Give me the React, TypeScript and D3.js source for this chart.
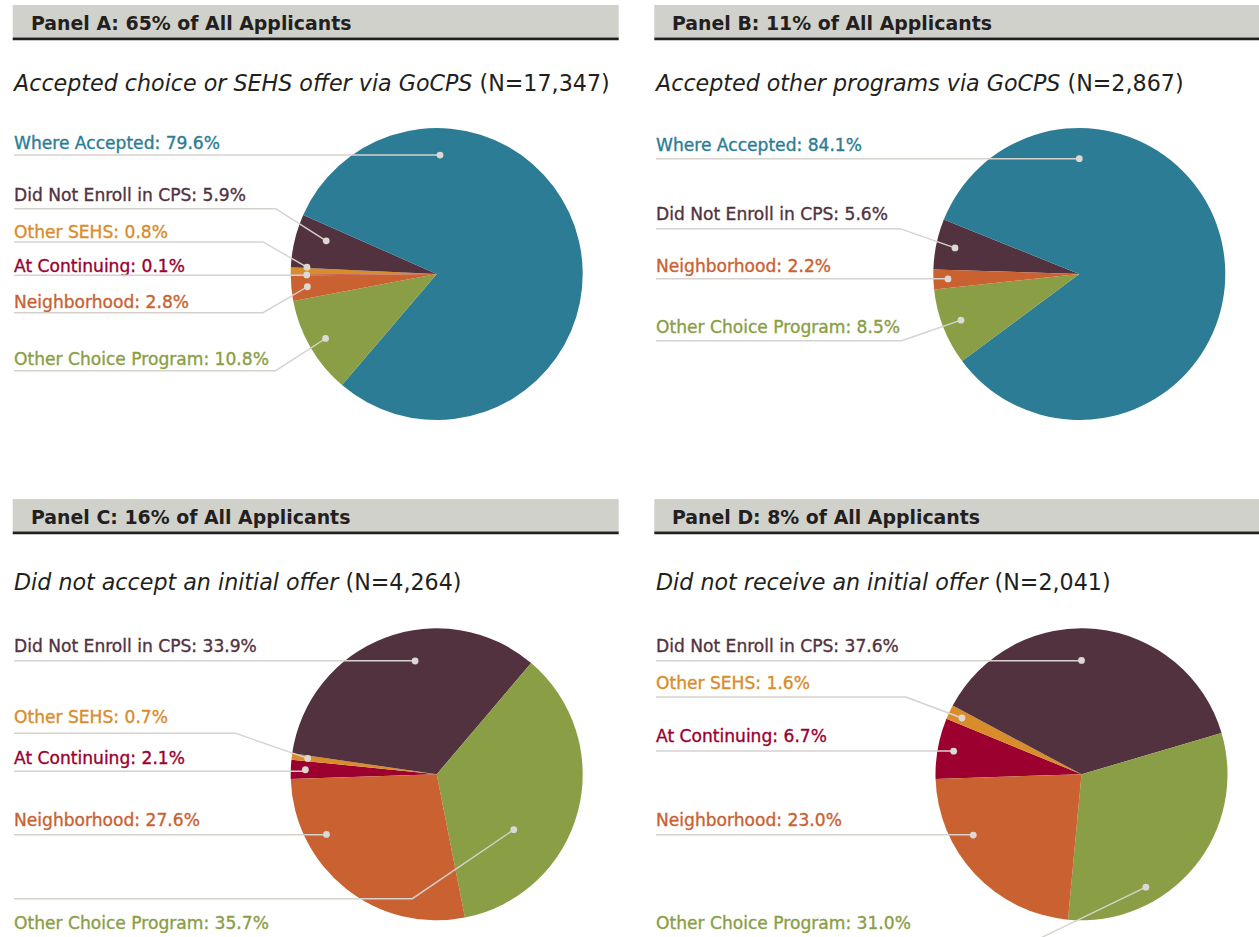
import React from "react";
import * as d3 from "d3";

// ---------- data ----------
const categories = [
  "At Continuing",
  "Other SEHS",
  "Did Not Enroll in CPS",
  "Where Accepted",
  "Other Choice Program",
  "Neighborhood",
];
const panelAValues = [0.1, 0.8, 5.9, 79.6, 10.8, 2.8];
const panelBValues = [0, 0, 5.6, 84.1, 8.5, 2.2];
const panelCValues = [2.1, 0.7, 33.9, 0, 35.7, 27.6];
const panelDValues = [6.7, 1.6, 37.6, 0, 31.0, 23.0];

const panelTitles = [
  "Panel A: 65% of All Applicants",
  "Panel B: 11% of All Applicants",
  "Panel C: 16% of All Applicants",
  "Panel D: 8% of All Applicants",
];
const subtitles = [
  "Accepted choice or SEHS offer via GoCPS",
  "Accepted other programs via GoCPS",
  "Did not accept an initial offer",
  "Did not receive an initial offer",
];
const sampleSizes = ["N=17,347", "N=2,867", "N=4,264", "N=2,041"];

// ---------- style ----------
const colors: Record<string, string> = {
  "At Continuing": "#9b002f",
  "Other SEHS": "#d98c2a",
  "Did Not Enroll in CPS": "#52323f",
  "Where Accepted": "#2c7c95",
  "Other Choice Program": "#8a9e45",
  Neighborhood: "#c96131",
};
const FONT = "'DejaVu Sans', Verdana, sans-serif";
const W = 1259;
const H = 937;
const R = 146;
const LEADER = "#d6d2ce";

type LabelCfg = { ty: number; ly: number; ex?: number; a?: number; f: number };
type PanelCfg = {
  values: number[];
  barX0: number;
  barX1: number;
  barY: number;
  titleX: number;
  subX: number;
  subY: number;
  cx: number;
  cy: number;
  start: number;
  labelX: number;
  labels: Record<string, LabelCfg>;
};

const panels: PanelCfg[] = [
  {
    values: panelAValues,
    barX0: 12.7, barX1: 618.7, barY: 5,
    titleX: 31, subX: 14, subY: 83,
    cx: 436.7, cy: 274, start: 269.4, labelX: 14,
    labels: {
      "Where Accepted": { ty: 142.7, ly: 155, a: 1.6, f: 0.815 },
      "Did Not Enroll in CPS": { ty: 195, ly: 208.7, ex: 275.7, a: 286.7, f: 0.79 },
      "Other SEHS": { ty: 231.7, ly: 242, ex: 263, a: 273, f: 0.89 },
      "At Continuing": { ty: 265.7, ly: 275.3, f: 0.89 },
      Neighborhood: { ty: 301.7, ly: 312.7, ex: 263, f: 0.89 },
      "Other Choice Program": { ty: 359, ly: 370.7, ex: 275.7, f: 0.88 },
    },
  },
  {
    values: panelBValues,
    barX0: 654.3, barX1: 1259, barY: 5,
    titleX: 672, subX: 656, subY: 83,
    cx: 1079.3, cy: 274, start: 271.8, labelX: 656,
    labels: {
      "Where Accepted": { ty: 145, ly: 158.7, a: 0, f: 0.79 },
      "Did Not Enroll in CPS": { ty: 214.3, ly: 228.7, ex: 900, f: 0.87 },
      Neighborhood: { ty: 265.7, ly: 278.7, f: 0.9 },
      "Other Choice Program": { ty: 327.3, ly: 340.7, ex: 901.7, f: 0.87 },
    },
  },
  {
    values: panelCValues,
    barX0: 12.7, barX1: 618.7, barY: 499,
    titleX: 31, subX: 14, subY: 581.7,
    cx: 436.7, cy: 774.3, start: 268.2, labelX: 14,
    labels: {
      "Did Not Enroll in CPS": { ty: 646, ly: 660.7, a: 349.2, f: 0.79 },
      "Other SEHS": { ty: 717.3, ly: 733.3, ex: 235.7, f: 0.89 },
      "At Continuing": { ty: 757.7, ly: 771.3, f: 0.9 },
      Neighborhood: { ty: 820, ly: 834.7, a: 241.4, f: 0.86 },
      "Other Choice Program": { ty: 922.7, ly: 898.7, ex: 412.3, a: 125.7, f: 0.65 },
    },
  },
  {
    values: panelDValues,
    barX0: 654.3, barX1: 1259, barY: 499,
    titleX: 672, subX: 656, subY: 581.7,
    cx: 1081.5, cy: 774.3, start: 268.2, labelX: 656,
    labels: {
      "Did Not Enroll in CPS": { ty: 646, ly: 660.7, a: 0, f: 0.78 },
      "Other SEHS": { ty: 683.3, ly: 697, ex: 905.7, f: 0.905 },
      "At Continuing": { ty: 736, ly: 751, f: 0.89 },
      Neighborhood: { ty: 820, ly: 834.7, a: 240.7, f: 0.85 },
      "Other Choice Program": { ty: 922.7, ly: 960, ex: 995, a: 150.3, f: 0.89 },
    },
  },
];

const DEG = Math.PI / 180;

function Panel({ p, i }: { p: PanelCfg; i: number }) {
  const data = categories.map((c, k) => ({ cat: c, value: p.values[k] }));
  const pie = d3
    .pie<{ cat: string; value: number }>()
    .sort(null)
    .value((d) => d.value)
    .startAngle(p.start * DEG)
    .endAngle(p.start * DEG + 2 * Math.PI);
  const arcs = pie(data);
  const arc = d3
    .arc<d3.PieArcDatum<{ cat: string; value: number }>>()
    .innerRadius(0)
    .outerRadius(R);

  const barH = 32.5;
  return (
    <g>
      {/* header bar */}
      <rect x={p.barX0} y={p.barY} width={p.barX1 - p.barX0} height={barH} fill="#d1d1cb" />
      <line
        x1={p.barX0}
        x2={p.barX1}
        y1={p.barY + barH + 1.3}
        y2={p.barY + barH + 1.3}
        stroke="#231f20"
        strokeWidth={2.7}
      />
      <text
        x={p.titleX}
        y={p.barY + 17.7}
        dy="0.36em"
        fontFamily={FONT}
        fontWeight="bold"
        fontSize={18.9}
        fill="#231f20"
      >
        {panelTitles[i]}
      </text>
      {/* subtitle */}
      <text x={p.subX} y={p.subY} dy="0.36em" fontFamily={FONT} fontSize={22.2} fill="#231f20">
        <tspan fontStyle="italic">{subtitles[i]}</tspan>
        <tspan> ({sampleSizes[i]})</tspan>
      </text>
      {/* pie */}
      <g transform={`translate(${p.cx},${p.cy})`}>
        {arcs
          .filter((a) => a.data.value > 0)
          .map((a) => (
            <path key={a.data.cat} d={arc(a) || ""} fill={colors[a.data.cat]} />
          ))}
      </g>
      {/* labels and leaders */}
      {arcs
        .filter((a) => p.labels[a.data.cat])
        .map((a) => {
          const cfg = p.labels[a.data.cat];
          const mid = ((a.startAngle + a.endAngle) / 2) / DEG;
          const ang = (cfg.a !== undefined ? cfg.a : mid) * DEG;
          const dx = p.cx + cfg.f * R * Math.sin(ang);
          const dy = p.cy - cfg.f * R * Math.cos(ang);
          const ex = cfg.ex !== undefined ? cfg.ex : dx;
          const pts: [number, number][] = [
            [p.labelX, cfg.ly],
            [ex, cfg.ly],
            [dx, dy],
          ];
          return (
            <g key={a.data.cat}>
              <text
                x={p.labelX}
                y={cfg.ty}
                dy="0.36em"
                fontFamily={FONT}
                fontSize={17.1}
                fill={colors[a.data.cat]}
                stroke={colors[a.data.cat]}
                strokeWidth={0.35}
              >
                {`${a.data.cat}: ${a.data.value.toFixed(1)}%`}
              </text>
              <path
                d={d3.line()(pts) || ""}
                fill="none"
                stroke={LEADER}
                strokeWidth={1.4}
              />
              <circle cx={dx} cy={dy} r={3.4} fill="#dcd8d4" />
            </g>
          );
        })}
    </g>
  );
}

export default function App() {
  return (
    <svg
      width={W}
      height={H}
      viewBox={`0 0 ${W} ${H}`}
      style={{ position: "absolute", left: 0, top: 0, background: "#fff" }}
    >
      <rect width={W} height={H} fill="#fff" />
      {panels.map((p, i) => (
        <Panel key={i} p={p} i={i} />
      ))}
    </svg>
  );
}
